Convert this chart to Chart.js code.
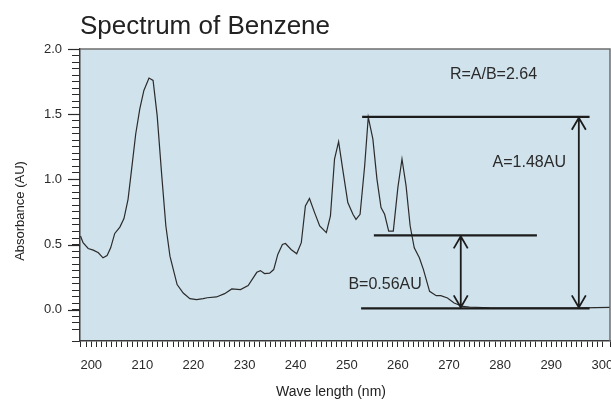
<!DOCTYPE html>
<html>
<head>
<meta charset="utf-8">
<script src="https://cdn.jsdelivr.net/npm/chart.js@4.4.1/dist/chart.umd.min.js"></script>
<style>
  html, body { margin: 0; padding: 0; background: #fff; overflow: hidden; }
</style>
</head>
<body>
<canvas id="grafico" width="611" height="400"></canvas>
<script>
// Espectro do benzeno
const wavelength = [197.9, 198.4, 199.4, 200.4, 201.4, 202.3, 203.1, 203.8, 204.6, 205.6,
  206.4, 207.2, 207.9, 208.7, 209.5, 210.3, 211.3, 212.1, 212.9, 213.8,
  214.6, 215.4, 216.8, 218.0, 219.3, 220.6, 221.9, 222.7, 224.5, 226.1,
  227.5, 229.2, 230.7, 232.4, 233.1, 233.9, 234.9, 235.7, 236.5, 237.4,
  238.0, 239.1, 240.2, 241.1, 241.9, 242.7, 243.7, 244.7, 246.0, 246.8,
  247.6, 248.4, 249.2, 250.2, 251.2, 251.8, 252.6, 253.5, 254.2, 255.1,
  255.9, 256.7, 257.4, 258.2, 259.1, 260.0, 260.8, 261.6, 262.4, 263.2,
  264.2, 265.0, 266.2, 267.5, 268.4, 269.7, 271.0, 272.7, 274.0, 277.9,
  285.7, 293.5, 301.5];
const absorbance = [0.565, 0.514, 0.470, 0.457, 0.437, 0.398, 0.416, 0.475, 0.585, 0.634,
  0.699, 0.847, 1.079, 1.348, 1.541, 1.682, 1.777, 1.759, 1.489, 1.027,
  0.642, 0.411, 0.193, 0.128, 0.085, 0.077, 0.085, 0.092, 0.098, 0.123,
  0.159, 0.154, 0.185, 0.287, 0.300, 0.277, 0.280, 0.308, 0.424, 0.501,
  0.508, 0.462, 0.429, 0.514, 0.796, 0.853, 0.745, 0.642, 0.591, 0.719,
  1.156, 1.289, 1.079, 0.822, 0.732, 0.693, 0.732, 1.104, 1.477, 1.310,
  1.002, 0.784, 0.732, 0.603, 0.603, 0.938, 1.156, 0.950, 0.642, 0.475,
  0.398, 0.308, 0.141, 0.108, 0.108, 0.090, 0.052, 0.025, 0.021, 0.015,
  0.012, 0.012, 0.018];

// eixos
const xRange = [197.8, 301.5];
const yRange = [-0.24, 2.0];
const yMajorTicks = [0.0, 0.5, 1.0, 1.5, 2.0];

// marcações A e B (em nm / AU)
const levelA = 1.48;
const levelB = 0.57;
const levelBase = 0.01;
const lineA = [253.0, 297.5];
const lineB = [255.3, 287.2];
const lineBase = [252.8, 297.5];
const arrowA = 295.4;
const arrowB = 272.3;
const labels = [
  { text: 'R=A/B=2.64', x: 278.7, y: 1.80 },
  { text: 'A=1.48AU', x: 285.7, y: 1.13 },
  { text: 'B=0.56AU', x: 257.5, y: 0.195 }
];

const FONTE = "'Liberation Sans', Arial, Helvetica, sans-serif";
Chart.defaults.font.family = FONTE;
Chart.defaults.color = '#2a2a2a';

function isMajor(v, step) {
  const r = v / step;
  return Math.abs(r - Math.round(r)) < 1e-6;
}

function seta(ctx, x, yTop, yBot) {
  ctx.beginPath();
  ctx.moveTo(x, yTop);
  ctx.lineTo(x, yBot);
  ctx.moveTo(x - 7, yTop + 12);
  ctx.lineTo(x, yTop);
  ctx.lineTo(x + 7, yTop + 12);
  ctx.moveTo(x - 7, yBot - 12);
  ctx.lineTo(x, yBot);
  ctx.lineTo(x + 7, yBot - 12);
  ctx.stroke();
}

const decoracao = {
  id: 'decoracao',
  beforeDraw(chart) {
    const { ctx, chartArea: a } = chart;
    ctx.save();
    ctx.fillStyle = '#d0e2eb';
    ctx.fillRect(a.left, a.top, a.right - a.left, a.bottom - a.top);
    ctx.restore();
  },
  afterDatasetsDraw(chart) {
    const ctx = chart.ctx;
    const xs = chart.scales.x, ys = chart.scales.y;
    ctx.save();
    // linhas horizontais
    ctx.strokeStyle = '#1c1c1c';
    ctx.lineWidth = 2.3;
    [[lineA, levelA], [lineB, levelB], [lineBase, levelBase]].forEach(([seg, lv]) => {
      const y = ys.getPixelForValue(lv);
      ctx.beginPath();
      ctx.moveTo(xs.getPixelForValue(seg[0]), y);
      ctx.lineTo(xs.getPixelForValue(seg[1]), y);
      ctx.stroke();
    });
    // setas
    ctx.lineWidth = 1.8;
    seta(ctx, xs.getPixelForValue(arrowA), ys.getPixelForValue(levelA) + 1, ys.getPixelForValue(levelBase) - 1);
    seta(ctx, xs.getPixelForValue(arrowB), ys.getPixelForValue(levelB) + 1, ys.getPixelForValue(levelBase) - 1);
    // textos
    ctx.fillStyle = '#2a2a2a';
    ctx.font = '16px ' + FONTE;
    ctx.textAlign = 'center';
    ctx.textBaseline = 'middle';
    labels.forEach(l => {
      ctx.fillText(l.text, xs.getPixelForValue(l.x), ys.getPixelForValue(l.y));
    });
    ctx.restore();
  },
  afterDraw(chart) {
    const { ctx, chartArea: a } = chart;
    const ys = chart.scales.y;
    ctx.save();
    // moldura superior e direita
    ctx.strokeStyle = '#6e6e6e';
    ctx.lineWidth = 1.5;
    ctx.beginPath();
    ctx.moveTo(a.left, a.top);
    ctx.lineTo(a.right, a.top);
    ctx.lineTo(a.right, a.bottom);
    ctx.stroke();
    // ticks maiores do eixo y
    ctx.strokeStyle = '#2a2a2a';
    ctx.lineWidth = 1.2;
    yMajorTicks.forEach(v => {
      const y = Math.round(ys.getPixelForValue(v)) + 0.5;
      ctx.beginPath();
      ctx.moveTo(a.left - 12, y);
      ctx.lineTo(a.left, y);
      ctx.stroke();
    });
    // titulos
    ctx.fillStyle = '#222';
    ctx.font = '26px ' + FONTE;
    ctx.textAlign = 'left';
    ctx.textBaseline = 'alphabetic';
    ctx.fillText('Spectrum of Benzene', 80, 34);

    ctx.font = '14px ' + FONTE;
    ctx.textAlign = 'center';
    ctx.textBaseline = 'middle';
    ctx.fillText('Wave length (nm)', 331, 392);

    ctx.font = '13px ' + FONTE;
    ctx.translate(20, 211);
    ctx.rotate(-Math.PI / 2);
    ctx.fillText('Absorbance (AU)', 0, 0);
    ctx.restore();
  }
};

const pontos = wavelength.map((w, i) => ({ x: w, y: absorbance[i] }));

new Chart(document.getElementById('grafico'), {
  type: 'line',
  data: {
    datasets: [{
      data: pontos,
      borderColor: '#2b2b2b',
      borderWidth: 1.2,
      pointRadius: 0,
      tension: 0,
      fill: false
    }]
  },
  options: {
    responsive: false,
    animation: false,
    layout: { padding: { top: 49, right: 1, left: 0, bottom: 0 } },
    plugins: {
      legend: { display: false },
      tooltip: { enabled: false }
    },
    scales: {
      x: {
        type: 'linear',
        min: xRange[0],
        max: xRange[1],
        afterFit: s => { s.height = 59; s.paddingLeft = 0; s.paddingRight = 0; },
        border: { color: '#3a3a3a', width: 1.5 },
        grid: { drawOnChartArea: false, tickLength: 6, tickColor: '#2a2a2a', tickWidth: 1 },
        ticks: {
          stepSize: 1,
          autoSkip: false,
          maxRotation: 0,
          minRotation: 0,
          padding: 11,
          font: { size: 13 },
          callback: v => isMajor(v, 10) ? String(Math.round(v)) : ''
        }
      },
      y: {
        min: yRange[0],
        max: yRange[1],
        afterFit: s => { s.width = 80; s.paddingTop = 0; s.paddingBottom = 0; },
        border: { color: '#3a3a3a', width: 1.5 },
        grid: { drawOnChartArea: false, tickLength: 8, tickColor: '#2a2a2a', tickWidth: 1 },
        ticks: {
          stepSize: 0.05,
          autoSkip: false,
          padding: 10,
          font: { size: 13 },
          callback: v => isMajor(v, 0.5) ? v.toFixed(1) : ''
        }
      }
    }
  },
  plugins: [decoracao]
});
</script>
</body>
</html>
